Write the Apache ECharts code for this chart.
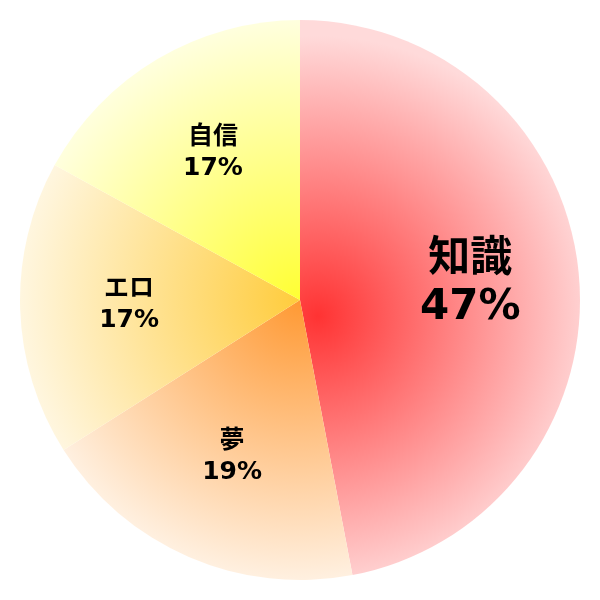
<!DOCTYPE html>
<html>
<head>
<meta charset="utf-8">
<script src="https://cdn.jsdelivr.net/npm/echarts@6/dist/echarts.min.js"></script>
<style>
  html, body { margin: 0; padding: 0; background: #fff; }
  #chart { width: 600px; height: 600px; }
</style>
</head>
<body>
<div id="chart"></div>
<script>
// データ
const categories = ['知識', '夢', 'エロ', '自信']
const values = [47, 19, 17, 17]
// 中心の色 / 外側の色
const innerColors = ['#ff3333', '#ff9933', '#ffcc3c', '#ffff33']
const outerColors = ['#ffdada', '#fff0e0', '#fff6df', '#ffffde']
const gradCenters = [[318, 316], [300, 300], [300, 300], [300, 300]]

const myChart = echarts.init(document.getElementById('chart'))

const fillData = categories.map((name, i) => ({
  name,
  value: values[i],
  itemStyle: {
    color: {
      type: 'radial',
      x: gradCenters[i][0], y: gradCenters[i][1], r: 280,
      global: true,
      colorStops: [
        { offset: 0, color: innerColors[i] },
        { offset: 1, color: outerColors[i] }
      ]
    }
  }
}))

// ラベル用（透明）
const labelData = categories.map((name, i) => ({
  name,
  value: values[i],
  label: i === 0
    ? { fontSize: 42, lineHeight: 48 }
    : { fontSize: 25, lineHeight: 31 }
}))

const option = {
  animation: false,
  series: [
    {
      type: 'pie',
      center: [300, 300],
      radius: 280,
      startAngle: 90,
      clockwise: true,
      silent: true,
      label: { show: false },
      labelLine: { show: false },
      itemStyle: { borderWidth: 0 },
      data: fillData
    },
    {
      type: 'pie',
      center: [300, 300],
      radius: [56, 280],
      startAngle: 90,
      clockwise: true,
      silent: true,
      itemStyle: { color: 'rgba(0,0,0,0)', borderWidth: 0 },
      label: {
        show: true,
        position: 'inside',
        color: '#000',
        fontWeight: 'bold',
        fontFamily: '"DejaVu Sans", "Noto Sans CJK JP", sans-serif',
        textBorderWidth: 0,
        formatter: p => p.name + '\n' + p.value + '%'
      },
      labelLine: { show: false },
      data: labelData
    }
  ]
}

myChart.setOption(option)
</script>
</body>
</html>
